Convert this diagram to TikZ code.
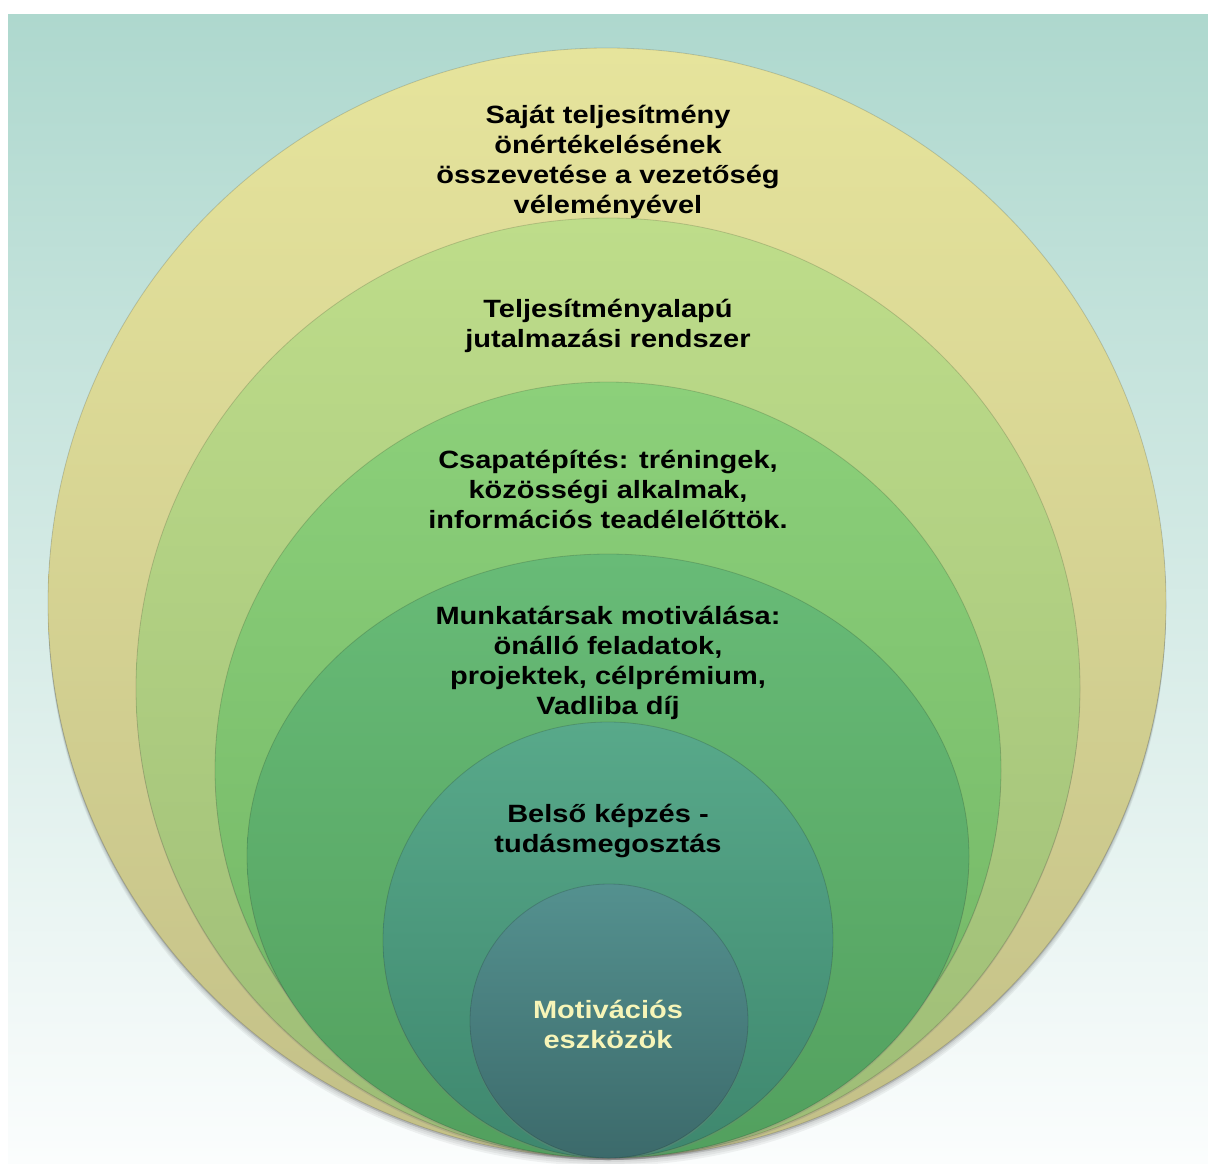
\documentclass[tikz,border=0pt]{standalone}
\usepackage{fontspec}
\setmainfont{Liberation Sans}[FakeStretch=1.16]
\usetikzlibrary{shadows}
\definecolor{bgtop}{HTML}{AED8CE}
\definecolor{bgmid}{HTML}{D6EBE7}
\definecolor{bgbot}{HTML}{FBFDFD}
\definecolor{aT}{HTML}{E6E49C}\definecolor{aB}{HTML}{C3C088}
\definecolor{bT}{HTML}{BEDD8A}\definecolor{bB}{HTML}{9DBC76}
\definecolor{cT}{HTML}{8CD07A}\definecolor{cB}{HTML}{70B464}
\definecolor{dT}{HTML}{68BB77}\definecolor{dB}{HTML}{52A05E}
\definecolor{eT}{HTML}{58A98A}\definecolor{eB}{HTML}{3E876E}
\definecolor{fT}{HTML}{54918F}\definecolor{fB}{HTML}{3C6A6B}
\definecolor{paletxt}{HTML}{F7F5B8}
\begin{document}
\begin{tikzpicture}[x=1pt,y=-1pt,
  ring/.style={line width=0.8pt, draw=black, draw opacity=0.15,
    drop shadow={opacity=0.25, shadow xshift=0pt, shadow yshift=-2pt}},
  lab/.style={anchor=base, inner sep=0pt, font=\bfseries\fontsize{25}{30}\selectfont, text=black}]
\useasboundingbox (0,0) rectangle (1208,1163);
\fill[white] (0,0) rectangle (1208,1163);
\shade[top color=bgtop, middle color=bgmid, bottom color=bgbot] (8,14) rectangle (1208,1163);
% soft shadow under outer shape
\foreach \s in {2,4,6,8}
  \fill[black, opacity=0.05] (607,603+\s) ellipse [x radius=559, y radius=555];
% nested shapes
\path[ring, top color=aT, bottom color=aB] (607,603) ellipse [x radius=559, y radius=555];
\path[ring, top color=bT, bottom color=bB] (608,688) ellipse [x radius=472, y radius=470];
\path[ring, top color=cT, bottom color=cB] (608,770) ellipse [x radius=393, y radius=388];
\path[ring, top color=dT, bottom color=dB] (608,856) ellipse [x radius=361, y radius=302];
\path[ring, top color=eT, bottom color=eB] (608,940) ellipse [x radius=225, y radius=218];
\path[ring, top color=fT, bottom color=fB] (609,1021) ellipse [x radius=139, y radius=137];
% labels
\node[lab] (t1) at (608,123) {\begin{tabular}[t]{@{}c@{}}Saját teljesítmény\\önértékelésének\\összevetése a vezetőség\\véleményével\end{tabular}};
\node[lab] (t2) at (608,317) {\begin{tabular}[t]{@{}c@{}}Teljesítményalapú\\jutalmazási rendszer\end{tabular}};
\node[lab] (t3) at (608,468) {\begin{tabular}[t]{@{}c@{}}Csapatépítés: tréningek,\\közösségi alkalmak,\\információs teadélelőttök.\end{tabular}};
\node[lab] (t4) at (608,624) {\begin{tabular}[t]{@{}c@{}}Munkatársak motiválása:\\önálló feladatok,\\projektek, célprémium,\\Vadliba díj\end{tabular}};
\node[lab] (t5) at (608,822) {\begin{tabular}[t]{@{}c@{}}Belső képzés -\\tudásmegosztás\end{tabular}};
\node[lab, text=paletxt] (t6) at (608,1018) {\begin{tabular}[t]{@{}c@{}}Motivációs\\eszközök\end{tabular}};
\end{tikzpicture}
\end{document}
